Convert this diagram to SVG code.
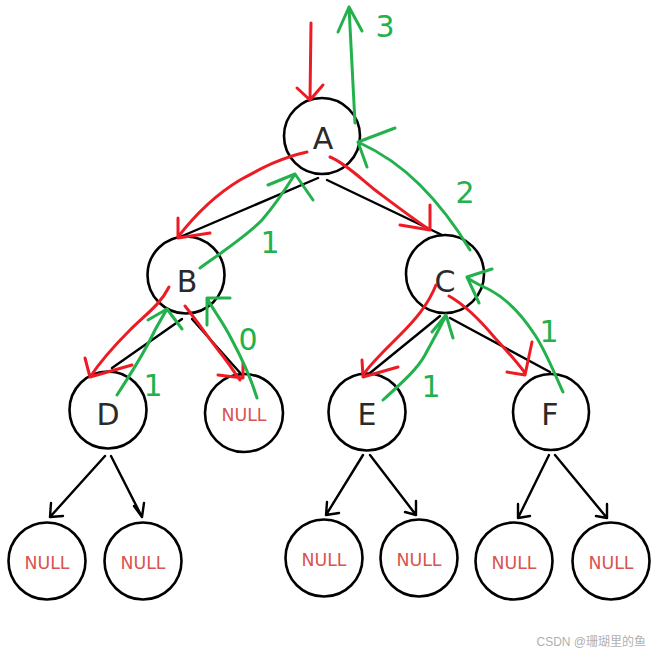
<svg xmlns="http://www.w3.org/2000/svg" width="656" height="657" viewBox="0 0 656 657">
<style>
.node{fill:none;stroke:#000;stroke-width:2.6}
.lbl{font-family:"DejaVu Sans",sans-serif;font-size:30px;fill:#2a2a2a;text-anchor:middle}
.nul{font-family:"DejaVu Sans Condensed","DejaVu Sans",sans-serif;font-size:18px;fill:#d9534f;text-anchor:middle}
.edge{fill:none;stroke:#000;stroke-width:2.4;stroke-linecap:round;stroke-linejoin:round}
.red{fill:none;stroke:#ed1c24;stroke-width:3;stroke-linecap:round;stroke-linejoin:round}
.grn{fill:none;stroke:#22b14c;stroke-width:3;stroke-linecap:round;stroke-linejoin:round}
.num{font-family:"DejaVu Sans",sans-serif;font-size:30px;fill:#22b14c;text-anchor:middle}
.wm{font-family:"Liberation Sans","Noto Sans CJK SC",sans-serif;font-size:12px;fill:#b0b0b0;text-anchor:end}
</style>
<rect width="656" height="657" fill="#fff"/>
<g id="node-A"><circle class="node" cx="322" cy="136" r="38"/><text class="lbl" x="323" y="149">A</text></g>
<g id="node-B"><circle class="node" cx="186" cy="275" r="38.5"/><text class="lbl" x="187" y="292">B</text></g>
<g id="node-C"><circle class="node" cx="445" cy="274" r="39"/><text class="lbl" x="445" y="292">C</text></g>
<g id="node-D"><circle class="node" cx="108" cy="410" r="38.5"/><text class="lbl" x="108" y="425">D</text></g>
<g id="node-NULL-B"><circle class="node" cx="244" cy="413" r="39"/><text class="nul" x="244" y="421" textLength="45" lengthAdjust="spacingAndGlyphs">NULL</text></g>
<g id="node-E"><circle class="node" cx="367" cy="412" r="38.5"/><text class="lbl" x="367" y="425">E</text></g>
<g id="node-F"><circle class="node" cx="551" cy="412" r="38"/><text class="lbl" x="550" y="425">F</text></g>
<g id="node-NULL-D1"><circle class="node" cx="47" cy="561" r="38.5"/><text class="nul" x="47" y="569" textLength="45" lengthAdjust="spacingAndGlyphs">NULL</text></g>
<g id="node-NULL-D2"><circle class="node" cx="143" cy="561" r="38.5"/><text class="nul" x="143" y="569" textLength="45" lengthAdjust="spacingAndGlyphs">NULL</text></g>
<g id="node-NULL-E1"><circle class="node" cx="324" cy="558" r="38.5"/><text class="nul" x="324" y="566" textLength="45" lengthAdjust="spacingAndGlyphs">NULL</text></g>
<g id="node-NULL-E2"><circle class="node" cx="419" cy="558" r="38.5"/><text class="nul" x="419" y="566" textLength="45" lengthAdjust="spacingAndGlyphs">NULL</text></g>
<g id="node-NULL-F1"><circle class="node" cx="514" cy="561" r="38.5"/><text class="nul" x="514" y="569" textLength="45" lengthAdjust="spacingAndGlyphs">NULL</text></g>
<g id="node-NULL-F2"><circle class="node" cx="611" cy="561" r="38.5"/><text class="nul" x="611" y="569" textLength="45" lengthAdjust="spacingAndGlyphs">NULL</text></g>
<g id="connectors">
  <path class="edge" d="M318,178 L180,237"/>
  <path class="edge" d="M327,180 L442,235"/>
  <path class="edge" d="M182,319 L112,368"/>
  <path class="edge" d="M192,319 L242,375"/>
  <path class="edge" d="M440,316 L370,373"/>
  <path class="edge" d="M450,318 L550,372"/>
  <path class="edge" d="M105,456 L50,517 M50,517 L51,503 M50,517 L63,516"/>
  <path class="edge" d="M111,456 L142,517 M142,517 L134,506 M142,517 L144,503"/>
  <path class="edge" d="M363,455 L326,515 M326,515 L327,502 M326,515 L339,513"/>
  <path class="edge" d="M370,455 L416,515 M416,515 L405,512 M416,515 L416,501"/>
  <path class="edge" d="M549,455 L518,518 M518,518 L518,504 M518,518 L530,516"/>
  <path class="edge" d="M555,455 L607,518 M607,518 L596,516 M607,518 L607,504"/>
  <path class="red" d="M311,23 L310,100 M297,88 L310,100 L323,85"/>
  <path class="red" d="M307,152 C280,158 262,168 240,180 C215,195 195,215 178,237 M178,218 L178,238 L210,233"/>
  <path class="red" d="M330,157 C345,163 360,178 375,190 C395,205 412,218 430,230 M430,205 L430,230 L400,225"/>
  <path class="red" d="M169,287 C160,305 145,315 130,330 C115,345 100,362 90,377 M85,358 L90,377 L132,365"/>
  <path class="red" d="M185,306 C200,325 210,340 222,355 C230,365 234,372 240,380 M243,363 L243,378 L218,375"/>
  <path class="red" d="M436,285 C428,305 415,320 400,335 C385,350 372,362 363,375 M362,360 L363,377 L398,367"/>
  <path class="red" d="M449,296 C465,305 480,320 495,338 C508,352 517,362 525,373 M532,342 L525,375 L507,372"/>
  <path class="grn" d="M355,123 L349,7 M338,32 L349,7 L362,31"/>
  <path class="grn" d="M470,250 C455,225 440,205 420,185 C400,165 380,152 358,142 M395,128 L358,142 L367,167"/>
  <path class="grn" d="M200,268 C225,250 248,235 262,220 C275,205 285,190 295,174 M268,185 L295,174 L313,200"/>
  <path class="grn" d="M117,395 C130,375 145,350 150,340 C157,325 162,318 167,309 M148,320 L167,309 L182,329"/>
  <path class="grn" d="M257,398 C250,375 240,355 232,340 C222,320 213,310 207,298 M207,325 L207,298 L230,298"/>
  <path class="grn" d="M383,400 C405,380 418,368 425,355 C433,340 440,328 446,315 M432,332 L446,315 L453,338"/>
  <path class="grn" d="M563,392 C553,370 545,350 535,335 C520,312 505,298 490,290 C480,285 472,282 467,277 M492,269 L467,277 L479,303"/>
</g>
<g id="labels">
  <text class="num" x="385" y="37">3</text>
  <text class="num" x="465" y="203">2</text>
  <text class="num" x="270" y="253">1</text>
  <text class="num" x="248" y="350">0</text>
  <text class="num" x="153" y="396">1</text>
  <text class="num" x="431" y="397">1</text>
  <text class="num" x="549" y="342">1</text>
  <text class="wm" x="646" y="646">CSDN @珊瑚里的鱼</text>
</g>
</svg>
